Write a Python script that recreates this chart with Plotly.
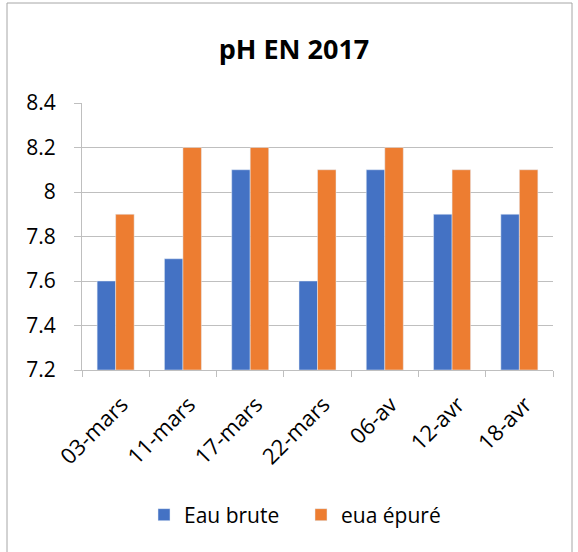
import plotly.graph_objects as go

categories = ["03-mars", "11-mars", "17-mars", "22-mars", "06-av", "12-avr", "18-avr"]
eau_brute = [7.6, 7.7, 8.1, 7.6, 8.1, 7.9, 7.9]
eau_epure = [7.9, 8.2, 8.2, 8.1, 8.2, 8.1, 8.1]
y_ticks = [7.2, 7.4, 7.6, 7.8, 8.0, 8.2, 8.4]
y_tick_text = ["7.2", "7.4", "7.6", "7.8", "8", "8.2", "8.4"]

FONT = "'Open Sans', sans-serif"

fig = go.Figure()
fig.add_trace(go.Bar(x=categories, y=[v - 7.2 for v in eau_brute], base=7.2,
                     name="Eau brute", marker_color="#4472C4",
                     hovertemplate="%{x}: %{customdata}<extra></extra>", customdata=eau_brute))
fig.add_trace(go.Bar(x=categories, y=[v - 7.2 for v in eau_epure], base=7.2,
                     name="eua épuré", marker_color="#ED7D31",
                     hovertemplate="%{x}: %{customdata}<extra></extra>", customdata=eau_epure))

W, H = 578, 552
L, R, T, B = 82, 553, 103, 370
pw, ph = R - L, B - T

def px(x):
    return (x - L) / pw

def py(y):
    return (B - y) / ph

fig.update_layout(
    width=W, height=H,
    margin=dict(l=L, r=W - R, t=T, b=H - B, autoexpand=False),
    paper_bgcolor="white", plot_bgcolor="white",
    barmode="group", bargap=0.45, bargroupgap=0,
    font=dict(family=FONT, size=21, color="#000000"),
    title=dict(text="<b>pH EN 2017</b>", x=(294) / W, xref="container", xanchor="center",
               y=1 - 50 / H, yref="container", yanchor="middle",
               font=dict(family=FONT, size=27, color="#000000")),
    showlegend=True,
    legend=dict(orientation="h", x=px(144), xanchor="left", y=py(515), yanchor="middle",
                font=dict(family=FONT, size=21), traceorder="normal", itemwidth=30,
                entrywidth=112, entrywidthmode="pixels"),
    xaxis=dict(type="category", tickangle=-45, showgrid=False,
               showline=True, linecolor="#BFBFBF", linewidth=1,
               ticks="outside", tickson="boundaries", ticklen=6, tickcolor="#BFBFBF",
               ticklabelstandoff=12, ticklabelshift=6,
               tickfont=dict(family=FONT, size=22)),
    yaxis=dict(range=[7.2, 8.4], tickvals=y_ticks, ticktext=y_tick_text,
               showgrid=True, gridcolor="#BFBFBF", gridwidth=1,
               showline=True, linecolor="#BFBFBF", linewidth=1,
               ticks="outside", ticklen=7, tickcolor="#BFBFBF",
               ticklabelposition="outside", ticklabelstandoff=14,
               zeroline=False, tickfont=dict(family=FONT, size=21)),
    shapes=[dict(type="rect", xref="paper", yref="paper",
                 x0=px(7), x1=px(572), y0=py(580), y1=py(3),
                 line=dict(color="#A6A6A6", width=1), fillcolor="rgba(0,0,0,0)", layer="below")],
)

fig.write_html("out.html", config={"displayModeBar": False},
               post_script="document.body.style.margin='0';")
